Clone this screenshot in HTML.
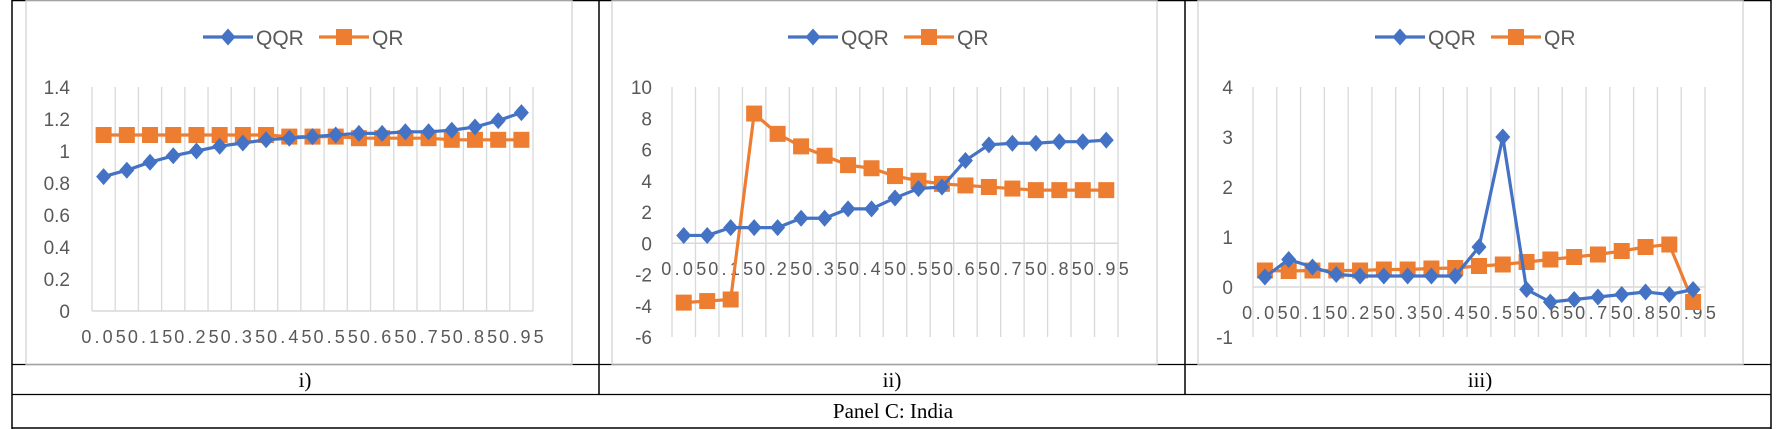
<!DOCTYPE html>
<html><head><meta charset="utf-8">
<style>
html,body{margin:0;padding:0;background:#fff;}
svg{display:block;}
</style></head>
<body>
<svg id="root" width="1783" height="429" viewBox="0 0 1783 429" xmlns="http://www.w3.org/2000/svg">
  <g id="frame">
    <line x1="12" y1="0.5" x2="1771" y2="0.5" stroke="#000" stroke-width="1.5"/>
    <line x1="12" y1="0" x2="12" y2="429" stroke="#000" stroke-width="1.5"/>
    <line x1="599" y1="0" x2="599" y2="395" stroke="#000" stroke-width="1.5"/>
    <line x1="1185" y1="0" x2="1185" y2="395" stroke="#000" stroke-width="1.5"/>
    <line x1="1771" y1="0" x2="1771" y2="429" stroke="#000" stroke-width="1.5"/>
    <line x1="12" y1="364.5" x2="1771" y2="364.5" stroke="#000" stroke-width="1.2"/>
    <line x1="12" y1="394.5" x2="1771" y2="394.5" stroke="#000" stroke-width="1.2"/>
    <line x1="12" y1="428" x2="1771" y2="428" stroke="#000" stroke-width="1.5"/>
  </g>
  <text x="305" y="387" font-family="Liberation Serif, serif" font-size="21" text-anchor="middle" fill="#000">i)</text>
  <text x="892" y="387" font-family="Liberation Serif, serif" font-size="21" text-anchor="middle" fill="#000">ii)</text>
  <text x="1480" y="387" font-family="Liberation Serif, serif" font-size="21" text-anchor="middle" fill="#000">iii)</text>
  <text x="893" y="418" font-family="Liberation Serif, serif" font-size="21" text-anchor="middle" fill="#000">Panel C: India</text>
</svg>
<script>
const categories = ["0.05","0.1","0.15","0.2","0.25","0.3","0.35","0.4","0.45","0.5","0.55","0.6","0.65","0.7","0.75","0.8","0.85","0.9","0.95"];
const qqr1 = [0.84,0.88,0.93,0.97,1.00,1.03,1.05,1.07,1.08,1.09,1.10,1.11,1.11,1.12,1.12,1.13,1.15,1.19,1.24];
const qr1  = [1.10,1.10,1.10,1.10,1.10,1.10,1.10,1.10,1.09,1.09,1.09,1.08,1.08,1.08,1.08,1.07,1.07,1.07,1.07];
const qqr2 = [0.5,0.5,1.0,1.0,1.0,1.6,1.6,2.2,2.2,2.9,3.5,3.6,5.3,6.3,6.4,6.4,6.5,6.5,6.6];
const qr2  = [-3.8,-3.7,-3.6,8.3,7.0,6.2,5.6,5.0,4.8,4.3,4.0,3.8,3.7,3.6,3.5,3.4,3.4,3.4,3.4];
const qqr3 = [0.2,0.55,0.4,0.25,0.22,0.22,0.22,0.22,0.22,0.8,3.0,-0.05,-0.3,-0.25,-0.2,-0.15,-0.1,-0.15,-0.05];
const qr3  = [0.33,0.32,0.33,0.33,0.33,0.35,0.35,0.37,0.38,0.42,0.45,0.5,0.55,0.6,0.65,0.72,0.8,0.85,-0.3];
const ticks1 = [0,0.2,0.4,0.6,0.8,1,1.2,1.4];
const ticks2 = [-6,-4,-2,0,2,4,6,8,10];
const ticks3 = [-1,0,1,2,3,4];

const NS = "http://www.w3.org/2000/svg";
const root = document.getElementById('root');
function mk(tag, attrs, parent){const e=document.createElementNS(NS,tag);for(const k in attrs)e.setAttribute(k,attrs[k]);(parent||root).appendChild(e);return e;}

const charts = [
  {id:1, box:[26,0,572,364], plotL:92, plotR:533, top:87, bottom:311, min:0, max:1.4, ticks:ticks1, qqr:qqr1, qr:qr1, labR:70, xLabY:343, leg:203},
  {id:2, box:[612,0,1157,364], plotL:672, plotR:1118, top:87, bottom:337, min:-6, max:10, ticks:ticks2, qqr:qqr2, qr:qr2, labR:652, xLabY:275, leg:788},
  {id:3, box:[1198,0,1743,364], plotL:1253, plotR:1705, top:87, bottom:337, min:-1, max:4, ticks:ticks3, qqr:qqr3, qr:qr3, labR:1233, xLabY:319, leg:1375}
];
const BLUE="#4472c4", ORANGE="#ed7d31", GRID="#d9d9d9", TXT="#595959";

charts.forEach(c=>{
  const g = mk('g',{});
  
  
  const b = mk('rect',{x:c.box[0],y:c.box[1]+1,width:c.box[2]-c.box[0],height:c.box[3]-c.box[1]-1,fill:'#fff',stroke:GRID,'stroke-width':1.5},g);
  
  
  const n = categories.length;
  const step = (c.plotR-c.plotL)/n;
  const xs = i => c.plotL + step*(i+0.5);
  const ys = v => c.bottom - (v-c.min)/(c.max-c.min)*(c.bottom-c.top);
  for(let i=0;i<=n;i++){
    const l = mk('line',{x1:c.plotL+step*i,x2:c.plotL+step*i,y1:c.top,y2:c.bottom,stroke:GRID,'stroke-width':1.3},g);
    
    
  }
  const ax = mk('line',{x1:c.plotL,x2:c.plotR,y1:ys(0),y2:ys(0),stroke:GRID,'stroke-width':1.5},g);
  
  
  c.ticks.forEach(t=>{
    const tx = mk('text',{x:c.labR,y:ys(t)+7,'text-anchor':'end','font-family':'Liberation Sans, sans-serif','font-size':19,fill:TXT},g);
    tx.textContent = String(t);
    
    
  });
  categories.forEach((cat,i)=>{
    if(i%2) return;
    const tx = mk('text',{x:xs(i),y:c.xLabY,'text-anchor':'middle','font-family':'Liberation Sans, sans-serif','font-size':18,fill:TXT,textLength:step*2-2,lengthAdjust:'spacing'},g);
    tx.textContent = cat;
    
    
  });
  [[c.qr,ORANGE,'qr'],[c.qqr,BLUE,'qqr']].forEach(([vals,col,nm])=>{
    const p = mk('polyline',{points:vals.map((v,i)=>xs(i)+','+ys(v)).join(' '),fill:'none',stroke:col,'stroke-width':3.2,'stroke-linejoin':'round'},g);
    
    
    vals.forEach((v,i)=>{
      const x=xs(i), y=ys(v);
      let m;
      if(nm==='qr') m = mk('rect',{x:x-8,y:y-8,width:16,height:16,fill:col},g);
      else m = mk('polygon',{points:`${x},${y-8.5} ${x+7.5},${y} ${x},${y+8.5} ${x-7.5},${y}`,fill:col},g);
      
      
    });
  });
  const lg = mk('g',{},g);
  
  
  const L = c.leg;
  [[L,'QQR',BLUE,'d'],[L+116,'QR',ORANGE,'s']].forEach(([x0,label,col,t])=>{
    const e = mk('g',{},lg);
    
    
    mk('line',{x1:x0,x2:x0+50,y1:37,y2:37,stroke:col,'stroke-width':3.2},e);
    const cx=x0+25;
    if(t==='d') mk('polygon',{points:`${cx},28.5 ${cx+7.5},37 ${cx},45.5 ${cx-7.5},37`,fill:col},e);
    else mk('rect',{x:cx-8,y:29,width:16,height:16,fill:col},e);
    const tx = mk('text',{x:x0+53,y:45,'font-family':'Liberation Sans, sans-serif','font-size':21,fill:TXT},e);
    tx.textContent = label;
  });
});
</script>
</body></html>
